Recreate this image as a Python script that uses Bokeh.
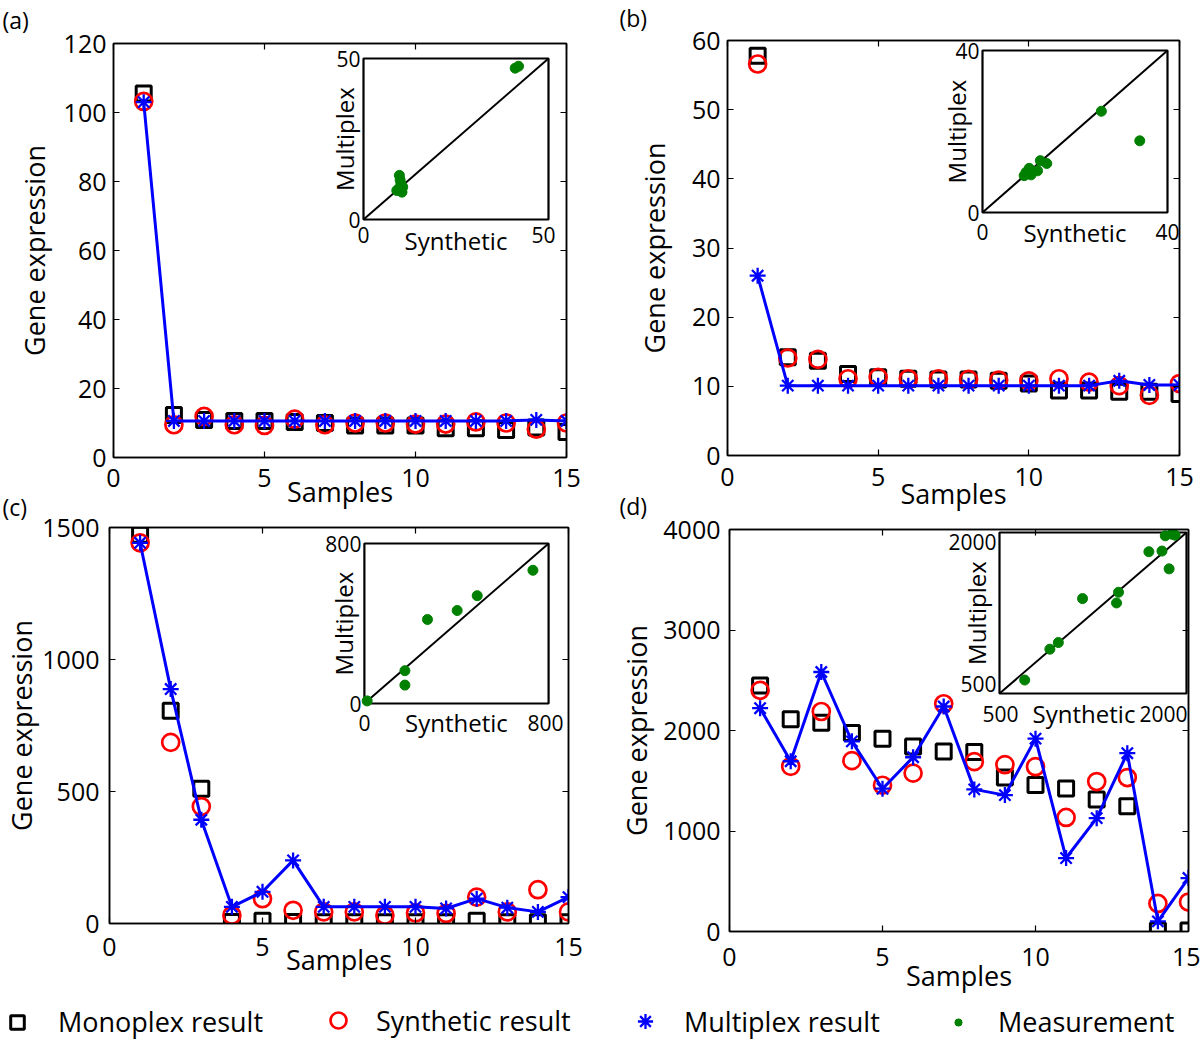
import math
from bokeh.plotting import figure
from bokeh.models import (Range1d, LinearAxis, FixedTicker, Legend, LegendItem,
                          ColumnDataSource)
from bokeh.layouts import column, row
from bokeh.embed import file_html
from bokeh.resources import INLINE
from bokeh.core.properties import value

FONT = "Open Sans"
RED = "#ff0000"
BLUE = "#0000ff"
GREEN = "#008000"

# ---------------- data ----------------
samples = list(range(1, 16))
x_ticks = [0, 5, 10, 15]

# (a)
a_monoplex = [105.5, 12.3, 10.9, 10.6, 10.6, 10.3, 10.0, 9.3, 9.3, 9.3, 8.5, 8.5, 8.0, 8.7, 7.4]
a_synthetic = [103.2, 9.5, 11.9, 9.5, 9.3, 11.1, 9.5, 10.0, 10.0, 9.7, 9.7, 10.3, 10.0, 8.2, 10.0]
a_multiplex = [103.0, 10.6, 10.6, 10.6, 10.6, 10.6, 10.6, 10.6, 10.6, 10.6, 10.6, 10.6, 10.6, 10.9, 10.6]
a_yticks = [0, 20, 40, 60, 80, 100, 120]
a_meas_synthetic = [41.9, 41.0, 9.7, 9.9, 10.1, 9.5, 10.6, 9.0, 10.4]
a_meas_multiplex = [47.6, 47.0, 13.7, 12.3, 11.1, 9.5, 10.1, 9.0, 8.5]
a_inset_lim = [0, 50]
a_inset_ticks = [0, 50]

# (b)
b_monoplex = [57.8, 14.2, 13.7, 11.8, 11.3, 11.1, 11.0, 11.0, 10.8, 10.4, 9.4, 9.4, 9.2, 9.2, 8.9]
b_synthetic = [56.6, 14.1, 13.9, 11.1, 11.3, 11.1, 11.1, 11.0, 10.9, 10.8, 11.1, 10.6, 10.1, 8.7, 10.4]
b_multiplex = [26.0, 10.1, 10.1, 10.1, 10.1, 10.1, 10.1, 10.1, 10.1, 10.1, 10.1, 10.1, 10.8, 10.2, 10.2]
b_yticks = [0, 10, 20, 30, 40, 50, 60]
b_meas_synthetic = [25.7, 34.0, 13.9, 12.5, 11.9, 10.1, 9.4, 9.0, 10.5, 9.7]
b_meas_multiplex = [25.0, 17.7, 12.1, 12.8, 10.3, 10.9, 9.9, 9.1, 9.3, 9.6]
b_inset_lim = [0, 40]
b_inset_ticks = [0, 40]

# (c)
c_monoplex = [1473, 806, 510, 6, 10, 6, 5, 5, 5, 5, 5, 10, 5, 5, 5]
c_synthetic = [1442, 686, 443, 31, 94, 50, 44, 44, 31, 40, 38, 100, 44, 128, 44]
c_multiplex = [1442, 888, 393, 63, 120, 239, 63, 63, 63, 63, 57, 94, 60, 44, 100]
c_yticks = [0, 500, 1000, 1500]
c_meas_synthetic = [12, 176, 176, 274, 403, 490, 732]
c_meas_multiplex = [13, 164, 92, 420, 465, 539, 666]
c_inset_lim = [0, 800]
c_inset_ticks = [0, 800]

# (d)
d_monoplex = [2448, 2111, 2077, 1976, 1919, 1842, 1791, 1785, 1532, 1458, 1424, 1313, 1246, 10, 10]
d_synthetic = [2400, 1643, 2189, 1700, 1455, 1576, 2266, 1690, 1660, 1640, 1135, 1492, 1532, 279, 293]
d_multiplex = [2222, 1694, 2582, 1892, 1421, 1734, 2239, 1414, 1357, 1919, 731, 1128, 1774, 101, 532]
d_yticks = [0, 1000, 2000, 3000, 4000]
d_meas_synthetic = [629, 858, 935, 1155, 1464, 1482, 1758, 1877, 1942, 1907, 1966, 1996]
d_meas_multiplex = [542, 868, 938, 1402, 1356, 1469, 1897, 1904, 1716, 2065, 2082, 2072]
d_inset_lim = [400, 2100]
d_inset_ticks = [500, 2000]

panel_letters = ["(a)", "(b)", "(c)", "(d)"]
legend_labels = ["Monoplex result", "Synthetic result", "Multiplex result", "Measurement"]

DATA = {
    "a": dict(mono=a_monoplex, syn=a_synthetic, mult=a_multiplex, yticks=a_yticks,
              msyn=a_meas_synthetic, mmult=a_meas_multiplex, lim=a_inset_lim,
              iticks=a_inset_ticks),
    "b": dict(mono=b_monoplex, syn=b_synthetic, mult=b_multiplex, yticks=b_yticks,
              msyn=b_meas_synthetic, mmult=b_meas_multiplex, lim=b_inset_lim,
              iticks=b_inset_ticks),
    "c": dict(mono=c_monoplex, syn=c_synthetic, mult=c_multiplex, yticks=c_yticks,
              msyn=c_meas_synthetic, mmult=c_meas_multiplex, lim=c_inset_lim,
              iticks=c_inset_ticks),
    "d": dict(mono=d_monoplex, syn=d_synthetic, mult=d_multiplex, yticks=d_yticks,
              msyn=d_meas_synthetic, mmult=d_meas_multiplex, lim=d_inset_lim,
              iticks=d_inset_ticks),
}

# ---------------- layout / style (page pixel coordinates) ----------------
OVER_H = 522
ROW1_H = 524
ROW2_TOP, ROW2_H = 484, 528
LEG_TOP, LEG_H = 1000, 41
STYLE = {
    "a": dict(canvas=(0, 0, 608, ROW1_H), frame=(113, 566, 43, 457), inset=(363, 548, 58, 219),
              yts=7, yls=8, xts=11, xls=-17, ixdx=[0, -5], ixdy=15, sdx=0, sdy=21, mdx=19),
    "b": dict(canvas=(608, 0, 592, ROW1_H), frame=(727, 1179, 40, 455), inset=(982, 1167, 50, 212),
              yts=7, yls=16, xts=12, xls=-14, ixdx=[0, 0], ixdy=19, sdx=0, sdy=20, mdx=26),
    "c": dict(canvas=(0, ROW2_TOP, 608, ROW2_H), frame=(107, 568, 527, 923),
              inset=(363, 548, 543, 703),
              yts=10, yls=-1, xts=14, xls=-18, ixdx=[0, -3], ixdy=19, sdx=0, sdy=19, mdx=21),
    "d": dict(canvas=(608, ROW2_TOP, 592, ROW2_H), frame=(729, 1188, 529, 931),
              inset=(999, 1186, 532, 693),
              yts=9, yls=5, xts=16, xls=-12, ixdx=[-10, -12], ixdy=20, sdx=-9, sdy=20, mdx=23),
}
# panel letters: left x and centre y on the page
LETTER_X = [2, 619, 2, 619]
LETTER_Y = [19, 17, 506, 505]


def style_axis(ax, ticks, show):
    ax.ticker = FixedTicker(ticks=ticks)
    ax.minor_tick_line_color = None
    ax.major_tick_in = 6
    ax.major_tick_out = 0
    ax.major_tick_line_color = "black"
    ax.major_tick_line_width = 1.2
    ax.axis_line_color = "black"
    ax.axis_line_width = 1.5
    ax.major_label_text_font = FONT
    if show:
        ax.major_label_text_color = "black"
        ax.major_label_text_font_size = "25px"
        ax.axis_label_text_font = FONT
        ax.axis_label_text_font_size = "27px"
        ax.axis_label_text_font_style = "normal"
        ax.axis_label_text_color = "black"
    else:
        ax.major_label_text_color = None
        ax.major_label_text_font_size = "1px"
        ax.major_label_standoff = 0
        ax.axis_label_standoff = 0


def make_panel(key):
    d = DATA[key]
    s = STYLE[key]
    cx, cy, cw, ch = s["canvas"]
    fl, fr, ft, fb = s["frame"]
    p = figure(width=cw, height=ch, output_backend="svg", toolbar_location=None, title=None,
               x_range=Range1d(0, 15), y_range=Range1d(d["yticks"][0], d["yticks"][-1]),
               min_border_left=fl - cx, min_border_right=cx + cw - fr,
               min_border_top=ft - cy, min_border_bottom=cy + ch - fb,
               x_axis_label="Samples", y_axis_label="Gene expression")
    p.grid.visible = False
    p.outline_line_color = "black"
    p.outline_line_width = 1.5
    p.background_fill_color = "white"
    p.border_fill_alpha = 0

    style_axis(p.xaxis[0], x_ticks, True)
    style_axis(p.yaxis[0], d["yticks"], True)
    p.xaxis[0].major_label_standoff = s["xts"]
    p.xaxis[0].axis_label_standoff = s["xls"]
    p.yaxis[0].major_label_standoff = s["yts"]
    p.yaxis[0].axis_label_standoff = s["yls"]
    top = LinearAxis()
    right = LinearAxis()
    style_axis(top, x_ticks, False)
    style_axis(right, d["yticks"], False)
    p.add_layout(top, "above")
    p.add_layout(right, "right")

    # main series
    p.scatter(samples, d["mono"], marker="square", size=15, fill_color=None,
              line_color="black", line_width=3)
    p.scatter(samples, d["syn"], marker="circle", size=17, fill_color=None,
              line_color=RED, line_width=2.7)
    p.line(samples, d["mult"], line_color=BLUE, line_width=3)
    p.scatter(samples, d["mult"], marker="asterisk", size=16, line_color=BLUE, line_width=2.3)

    # inset drawn on extra ranges that map onto the inset box
    il, ir, it, ib = s["inset"]
    lo, hi = d["lim"]
    kx = (hi - lo) / (ir - il)
    ky = (hi - lo) / (ib - it)
    p.extra_x_ranges = {"ix": Range1d(lo - (il - fl) * kx, hi + (fr - ir) * kx)}
    p.extra_y_ranges = {"iy": Range1d(lo - (fb - ib) * ky, hi + (it - ft) * ky)}
    rn = dict(x_range_name="ix", y_range_name="iy")
    p.quad(left=[lo], right=[hi], bottom=[lo], top=[hi], fill_color="white",
           line_color="black", line_width=2.2, **rn)
    p.line(d["lim"], d["lim"], line_color="black", line_width=2, **rn)
    p.scatter(d["msyn"], d["mmult"], marker="circle", size=10, fill_color=GREEN,
              line_color=GREEN, **rn)

    t = d["iticks"]
    xl = ColumnDataSource(dict(x=t, y=[lo] * len(t), text=[str(v) for v in t], dx=s["ixdx"]))
    p.text("x", "y", text="text", source=xl, x_offset="dx", y_offset=s["ixdy"],
           text_align="center", text_baseline="middle", text_font=value(FONT),
           text_font_size=value("21px"), text_color="black", **rn)
    yl = ColumnDataSource(dict(x=[lo] * len(t), y=t, text=[str(v) for v in t]))
    p.text("x", "y", text="text", source=yl, x_offset=-3, text_align="right",
           text_baseline="middle", text_font=value(FONT), text_font_size=value("21px"),
           text_color="black", **rn)
    mid = (lo + hi) / 2
    p.text(x=[mid], y=[lo], text=["Synthetic"], x_offset=s["sdx"], y_offset=s["sdy"],
           text_align="center", text_baseline="middle", text_font=value(FONT),
           text_font_size=value("24px"), text_color="black", **rn)
    p.text(x=[lo], y=[mid], text=["Multiplex"], x_offset=-s["mdx"], angle=math.pi / 2,
           text_align="center", text_baseline="middle", text_font=value(FONT),
           text_font_size=value("24px"), text_color="black", **rn)
    return p


figs = {k: make_panel(k) for k in "abcd"}

# ---------------- panel-letter layer (behind the panels, page-pixel ranges) ----------------
ov = figure(width=1200, height=OVER_H, output_backend="svg", toolbar_location=None,
            min_border=0, x_range=Range1d(0, 1200), y_range=Range1d(OVER_H, 0))
ov.axis.visible = False
ov.grid.visible = False
ov.outline_line_color = None
ov.border_fill_alpha = 0
ov.background_fill_alpha = 0
ov.text(x=LETTER_X, y=LETTER_Y, text=panel_letters, text_align="left", text_baseline="middle",
        text_font=value(FONT), text_font_size=value("23px"), text_color="black")

# ---------------- legend strip ----------------
lf = figure(width=1200, height=LEG_H, output_backend="svg", toolbar_location=None,
            min_border=0, x_range=Range1d(0, 1), y_range=Range1d(0, 1))
lf.axis.visible = False
lf.grid.visible = False
lf.outline_line_color = None
lf.border_fill_alpha = 0
lf.background_fill_alpha = 0

# legend-only renderers (hidden; the legend draws their glyph styles)
r_mono = lf.scatter(samples, a_monoplex, marker="square", fill_color=None, line_color="black",
                    line_width=3, visible=False)
r_syn = lf.scatter(samples, a_synthetic, marker="circle", fill_color=None, line_color=RED,
                   line_width=2.7, visible=False)
r_mult = lf.scatter(samples, a_multiplex, marker="asterisk", line_color=BLUE, line_width=2.3,
                    visible=False)
r_meas = lf.scatter(a_meas_synthetic, a_meas_multiplex, marker="circle", fill_color=GREEN,
                    line_color=GREEN, visible=False)
rends = [r_mono, r_syn, r_mult, r_meas]
# (glyph centre page x, text start page x, glyph box)
LEG_POS = [(17, 58, 34), (338, 376, 40), (645, 684, 38), (958, 998, 18)]
ITEM_H = 36
centre_from_bottom = LEG_TOP + LEG_H - 1022
for lab, r, (gx, tx, gb) in zip(legend_labels, rends, LEG_POS):
    x0 = gx - gb / 2
    leg = Legend(items=[LegendItem(label=lab, renderers=[r])],
                 location=(x0, centre_from_bottom - ITEM_H / 2),
                 orientation="horizontal", padding=0, margin=0, border_line_color=None,
                 background_fill_alpha=0, inactive_fill_alpha=0,
                 glyph_width=gb, glyph_height=gb, label_height=ITEM_H,
                 label_standoff=int(tx - (x0 + gb)), label_text_font=FONT,
                 label_text_font_size="27px", label_text_color="black",
                 label_text_baseline="middle")
    lf.add_layout(leg)

layout = column(
    column(ov),
    row(column(figs["a"]), column(figs["b"]), margin=(-OVER_H, 0, 0, 0)),
    row(column(figs["c"]), column(figs["d"]), margin=(ROW2_TOP - ROW1_H, 0, 0, 0)),
    column(lf, margin=(LEG_TOP - (ROW2_TOP + ROW2_H), 0, 0, 0)),
)
open("out.html", "w").write(file_html(layout, INLINE))
